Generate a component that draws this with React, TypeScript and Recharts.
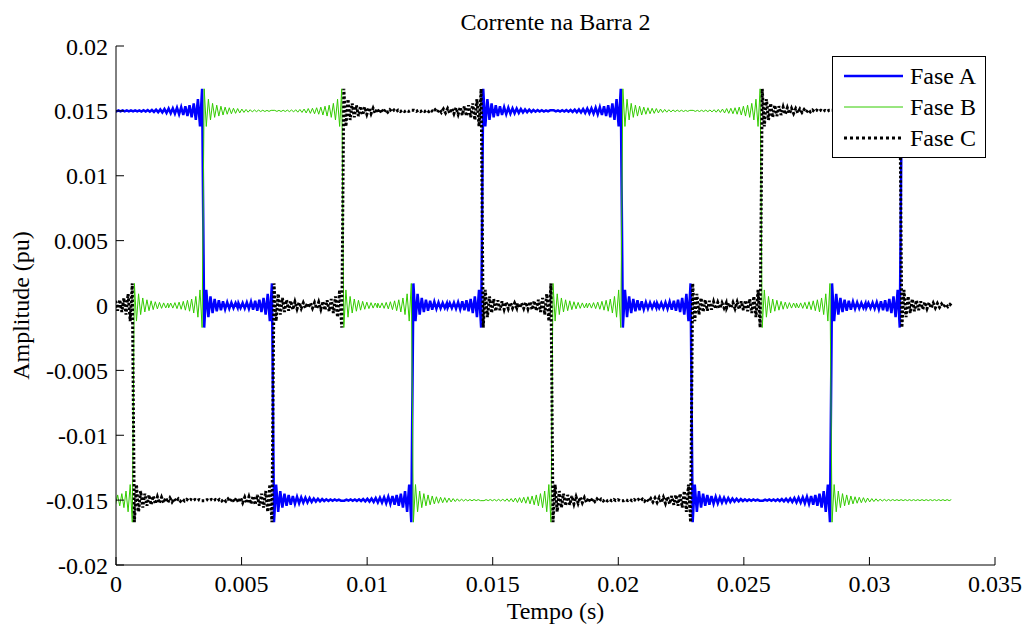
import React from 'react';
import { LineChart, Line, XAxis, YAxis, Legend } from 'recharts';

// switching instants (s), one per sixth of a 60 Hz cycle
const stepTimes = [0.00069, 0.00347, 0.00625, 0.00903, 0.0118, 0.01458, 0.01736, 0.02014, 0.02292, 0.02569, 0.02847, 0.03125];
// level of each phase before the first step and after every step (pu)
const levelsA = [0.015, 0.015, 0, -0.015, -0.015, 0, 0.015, 0.015, 0, -0.015, -0.015, 0, 0.015];
const levelsB = [-0.015, 0, 0.015, 0.015, 0, -0.015, -0.015, 0, 0.015, 0.015, 0, -0.015, -0.015];
const levelsC = [0, -0.015, -0.015, 0, 0.015, 0.015, 0, -0.015, -0.015, 0, 0.015, 0.015, 0];
const endTime = 0.03333;
// ringing around each step: half a ringing cycle, and the size of the successive peaks (pu)
const ringStep = 0.0000833;
const ringPeaks = [
  0.0017, 0.0012, 0.0009, 0.0007, 0.00058, 0.0005, 0.00044, 0.0004, 0.00036, 0.00032,
  0.00029, 0.00026, 0.00024, 0.00022, 0.0002, 0.00019, 0.00018, 0.00016, 0.00014, 0.00012,
  0.00011, 0.0001, 0.00009, 0.00008, 0.00007, 0.00006, 0.00006, 0.00005, 0.00005, 0.00005,
  0.00004, 0.00004, 0.00004, 0.00004, 0.00004,
];

const xTicks = [0, 0.005, 0.01, 0.015, 0.02, 0.025, 0.03, 0.035];
const yTicks = [-0.02, -0.015, -0.01, -0.005, 0, 0.005, 0.01, 0.015, 0.02];

const FONT = 'Liberation Serif, Times New Roman, serif';

type Pt = { t: number; v: number };

const peak = (k: number) => ringPeaks[Math.min(k, ringPeaks.length - 1)];

function buildPhase(levels: number[]): Pt[] {
  const edges: number[] = [];
  for (let i = 0; i < stepTimes.length; i++) {
    if (levels[i + 1] !== levels[i]) edges.push(i);
  }
  const bounds: (number | null)[] = [null, ...edges, null];
  const pts: Pt[] = [];
  for (let s = 0; s < bounds.length - 1; s++) {
    const left = bounds[s];
    const right = bounds[s + 1];
    const tL = left === null ? 0 : stepTimes[left];
    const tR = right === null ? endTime : stepTimes[right];
    const level = left === null ? levels[0] : levels[left + 1];
    const mid = (tL + tR) / 2;
    if (left !== null) {
      const dir = Math.sign(levels[left + 1] - levels[left]);
      const stop = right === null ? endTime : mid;
      for (let k = 0; tL + (k + 0.5) * ringStep < stop; k++) {
        pts.push({ t: tL + (k + 0.5) * ringStep, v: level + dir * (k % 2 ? -1 : 1) * peak(k) });
      }
    }
    if (right !== null) {
      const dir = Math.sign(levels[right + 1] - levels[right]);
      const stop = left === null ? -ringStep : mid;
      const tmp: Pt[] = [];
      for (let k = 0; tR - (k + 0.5) * ringStep >= stop; k++) {
        tmp.push({ t: tR - (k + 0.5) * ringStep, v: level - dir * (k % 2 ? -1 : 1) * peak(k) });
      }
      pts.push(...tmp.reverse());
    }
  }
  return pts;
}

const phases = [
  { name: 'Fase A', data: buildPhase(levelsA), color: '#0000ff', width: 2.5, dash: undefined as string | undefined, legendDash: undefined as string | undefined },
  { name: 'Fase B', data: buildPhase(levelsB), color: '#33cc00', width: 1, dash: undefined as string | undefined, legendDash: undefined as string | undefined },
  { name: 'Fase C', data: buildPhase(levelsC), color: '#000000', width: 3, dash: '2.5 2', legendDash: '3 3' },
];

const renderLegend = (props: any) => {
  const items = props.payload || [];
  return (
    <div style={{ width: 154, height: 102, boxSizing: 'border-box', border: '1px solid #000', background: '#fff', paddingTop: 3 }}>
      {items.map((entry: any) => {
        const p = phases.find((ph) => ph.name === entry.value) || phases[0];
        return (
          <div key={p.name} style={{ display: 'flex', alignItems: 'center', height: 31 }}>
            <svg width={59} height={10} style={{ marginLeft: 11 }}>
              <line x1={0} y1={5} x2={59} y2={5} stroke={p.color} strokeWidth={p.width} strokeDasharray={p.legendDash} />
            </svg>
            <span style={{ marginLeft: 7, fontFamily: FONT, fontSize: 24, color: '#000', lineHeight: '24px' }}>{p.name}</span>
          </div>
        );
      })}
    </div>
  );
};

const yLabel = (props: any) => {
  const vb = props.viewBox || { x: 0, y: 46, height: 519 };
  const x = vb.x + 29;
  const y = vb.y + vb.height / 2;
  return (
    <text x={x} y={y} transform={`rotate(-90, ${x}, ${y})`} textAnchor="middle" fill="#000" fontSize={24} fontFamily={FONT}>
      Amplitude (pu)
    </text>
  );
};

const xLabel = (props: any) => {
  const vb = props.viewBox || { x: 116, y: 565, width: 879 };
  return (
    <text x={vb.x + vb.width / 2} y={vb.y + 54} textAnchor="middle" fill="#000" fontSize={24} fontFamily={FONT}>
      Tempo (s)
    </text>
  );
};

const tickStyle = { fill: '#000', fontSize: 24, fontFamily: FONT };
const axisStroke = { stroke: '#000', strokeWidth: 1 };

export default function App() {
  return (
    <div style={{ position: 'absolute', left: 0, top: 0, width: 1026, height: 628, background: '#fff' }}>
      <div
        style={{
          position: 'absolute', left: 116, top: 10, width: 879, textAlign: 'center',
          fontFamily: FONT, fontSize: 24, lineHeight: '24px', color: '#000',
        }}
      >
        Corrente na Barra 2
      </div>
      <LineChart width={1026} height={628} margin={{ top: 46, right: 31, bottom: 3, left: 0 }}>
        <XAxis
          xAxisId={0} dataKey="t" type="number" domain={[0, 0.035]} ticks={xTicks} allowDataOverflow
          height={60} tickSize={-8} tickMargin={18} tick={tickStyle}
          axisLine={axisStroke} tickLine={axisStroke} label={{ content: xLabel }}
        />
        <XAxis
          xAxisId="top" orientation="top" dataKey="t" type="number" domain={[0, 0.035]} ticks={xTicks}
          allowDataOverflow height={0} tickSize={-8} tick={false} axisLine={axisStroke} tickLine={axisStroke}
        />
        <YAxis
          yAxisId={0} type="number" domain={[-0.02, 0.02]} ticks={yTicks} allowDataOverflow
          width={116} tickSize={-8} tickMargin={16} tick={tickStyle}
          axisLine={axisStroke} tickLine={axisStroke} label={{ content: yLabel }}
        />
        <YAxis
          yAxisId="right" orientation="right" type="number" domain={[-0.02, 0.02]} ticks={yTicks}
          width={0} tickSize={-8} tick={false} axisLine={axisStroke} tickLine={axisStroke}
        />
        {phases.map((p) => (
          <Line
            key={p.name}
            xAxisId={0}
            yAxisId={0}
            data={p.data}
            dataKey="v"
            name={p.name}
            type="linear"
            stroke={p.color}
            strokeWidth={p.width}
            strokeDasharray={p.dash}
            dot={false}
            activeDot={false}
            isAnimationActive={false}
          />
        ))}
        <Legend
          layout="vertical"
          align="center"
          verticalAlign="middle"
          content={renderLegend}
          wrapperStyle={{ left: 832, top: 56, width: 154, height: 102 }}
        />
      </LineChart>
    </div>
  );
}
